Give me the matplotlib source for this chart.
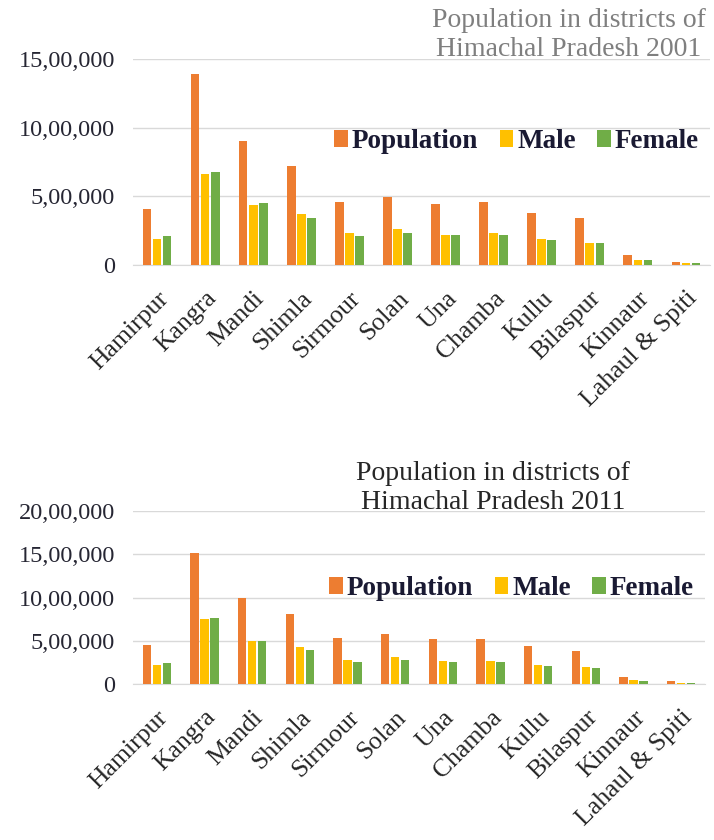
import matplotlib
matplotlib.use("Agg")
import matplotlib.pyplot as plt
import numpy as np
from matplotlib.ticker import FuncFormatter

districts = ["Hamirpur", "Kangra", "Mandi", "Shimla", "Sirmour", "Solan", "Una",
             "Chamba", "Kullu", "Bilaspur", "Kinnaur", "Lahaul & Spiti"]

pop_2001 = [410000, 1390000, 900000, 720000, 460000, 495000, 445000, 460000, 380000, 340000, 75000, 25000]
male_2001 = [190000, 660000, 440000, 375000, 235000, 262000, 222000, 230000, 192000, 162000, 40000, 13000]
female_2001 = [210000, 675000, 450000, 340000, 212000, 230000, 222000, 222000, 182000, 160000, 33000, 11000]

pop_2011 = [455000, 1510000, 1000000, 814000, 530000, 580000, 521000, 519000, 438000, 382000, 84000, 32000]
male_2011 = [217000, 750000, 498000, 425000, 276000, 309000, 264000, 261000, 225000, 193000, 46000, 17000]
female_2011 = [238000, 759000, 502000, 389000, 254000, 272000, 257000, 258000, 212000, 189000, 38000, 15000]

yticks_2001 = [0, 500000, 1000000, 1500000]
yticks_2011 = [0, 500000, 1000000, 1500000, 2000000]

series_names = ["Population", "Male", "Female"]
colors = ["#ED7D31", "#FFC000", "#70AD47"]

SERIF = ["Liberation Serif", "DejaVu Serif"]


def indian_format(v, pos=None):
    v = int(round(v))
    if v == 0:
        return "0"
    s = str(v)
    last3 = s[-3:]
    rest = s[:-3]
    parts = []
    while len(rest) > 2:
        parts.insert(0, rest[-2:])
        rest = rest[:-2]
    if rest:
        parts.insert(0, rest)
    return ",".join(parts + [last3])


fig = plt.figure(figsize=(7.14, 8.4), dpi=100)
W, H = 714, 840


def make_ax(rect_px, data, yticks, title_lines, title_pos, title_ha, title_color, legend_y):
    x0, y_top, x1, y_bot = rect_px
    ax = fig.add_axes([x0 / W, 1 - y_bot / H, (x1 - x0) / W, (y_bot - y_top) / H])
    x = np.arange(len(districts))
    width = 0.18
    offsets = [-0.21, 0.0, 0.21]
    for vals, off, c, name in zip(data, offsets, colors, series_names):
        ax.bar(x + off, vals, width=width, color=c, label=name, zorder=3)
    ax.set_xlim(-0.5, len(districts) - 0.5)
    ax.set_ylim(0, yticks[-1])
    ax.set_yticks(yticks)
    ax.yaxis.set_major_formatter(FuncFormatter(indian_format))
    ax.grid(axis="y", color="#d9d9d9", linewidth=1.0, zorder=0)
    for s in ["top", "right", "left"]:
        ax.spines[s].set_visible(False)
    ax.spines["bottom"].set_color("#d9d9d9")
    ax.tick_params(axis="both", length=0)
    ax.tick_params(axis="y", pad=13, labelsize=17.5, labelcolor="#262633")
    ax.set_xticks(x)
    ax.set_xticklabels(districts, rotation=45, ha="right", rotation_mode="anchor",
                       fontsize=18.5, family=SERIF, color="#262626")
    for lab in ax.get_yticklabels():
        lab.set_family(SERIF)
    ax.tick_params(axis="x", pad=16)
    leg = ax.legend(loc="center right", bbox_to_anchor=(1.0, legend_y), ncol=3, frameon=False,
                    prop={"family": SERIF, "weight": "bold", "size": 19.5},
                    handlelength=0.5, handleheight=0.6, handletextpad=0.15,
                    columnspacing=0.8, borderaxespad=0.0)
    for t in leg.get_texts():
        t.set_color("#1a1a33")
    tx, ty = title_pos
    fig.text(tx / W, 1 - ty / H, "\n".join(title_lines), ha=title_ha, va="center",
             family=SERIF, fontsize=20, color=title_color, linespacing=1.25,
             multialignment="center")
    return ax


make_ax((133, 59, 710, 265), [pop_2001, male_2001, female_2001], yticks_2001,
        ["Population in districts of", "Himachal Pradesh 2001"], (706, 35), "right", "#7f7f7f", 0.6)
make_ax((133, 511, 705, 684), [pop_2011, male_2011, female_2011], yticks_2011,
        ["Population in districts of", "Himachal Pradesh 2011"], (493, 488), "center", "#262626", 0.55)

fig.savefig("out.png", dpi=100, facecolor="white")
